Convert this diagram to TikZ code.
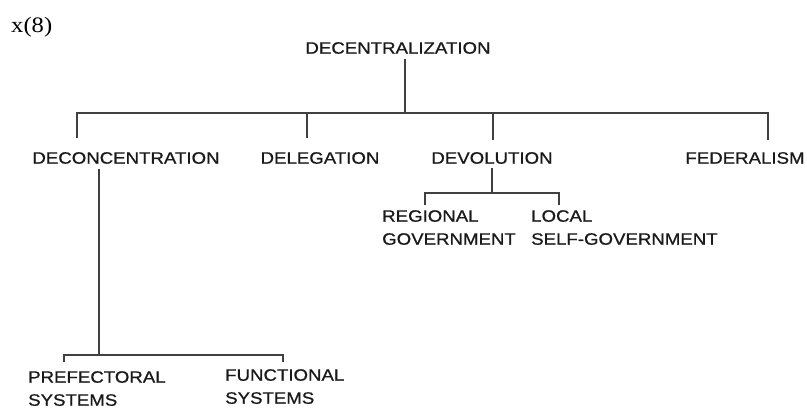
\documentclass[tikz,border=0pt]{standalone}
\usepackage{fontspec}
\setmainfont{Liberation Sans}[FakeStretch=1.13,FakeBold=0.8]
\newfontfamily\serifx{Liberation Serif}[FakeStretch=1.12]
\begin{document}
\begin{tikzpicture}[x=1pt,y=-1pt,
  lbl/.style={inner sep=0pt,font=\fontsize{16.5}{23}\selectfont,text=black!90},
  mlbl/.style={lbl,align=left,anchor=north west},
  conn/.style={line width=1.4pt,draw=black!75}]
\useasboundingbox (0,0) rectangle (807,408);
\node[inner sep=0pt,anchor=west,font=\serifx\fontsize{22}{24}\selectfont] (pg) at (11,27) {x(8)};
\node[lbl] (dec) at (398,48) {DECENTRALIZATION};
\node[lbl] (dcn) at (126,158) {DECONCENTRATION};
\node[lbl] (del) at (320,158) {DELEGATION};
\node[lbl] (dev) at (492,158) {DEVOLUTION};
\node[lbl] (fed) at (745,158) {FEDERALISM};
\node[mlbl] (reg) at (382,210) {REGIONAL\\GOVERNMENT};
\node[mlbl] (loc) at (531,210) {LOCAL\\SELF-GOVERNMENT};
\node[mlbl] (pre) at (28,371) {PREFECTORAL\\SYSTEMS};
\node[mlbl] (fun) at (225,369) {FUNCTIONAL\\SYSTEMS};
% main tree
\coordinate (b1) at (405,113);
\draw[conn] (dec.south -| b1) ++(0,5) -- (b1);
\draw[conn] (77,138) -- (77,113) -- (768,113) -- (768,140);
\draw[conn] (307,113) -- (307,138);
\draw[conn] (493,113) -- (493,140);
% deconcentration
\draw[conn] (99,169) -- (99,355);
\draw[conn] (64,362) -- (64,355) -- (283,355) -- (283,362);
% devolution
\draw[conn] (492,168) -- (492,193);
\draw[conn] (425,205) -- (425,193) -- (559,193) -- (559,205);
\end{tikzpicture}
\end{document}
